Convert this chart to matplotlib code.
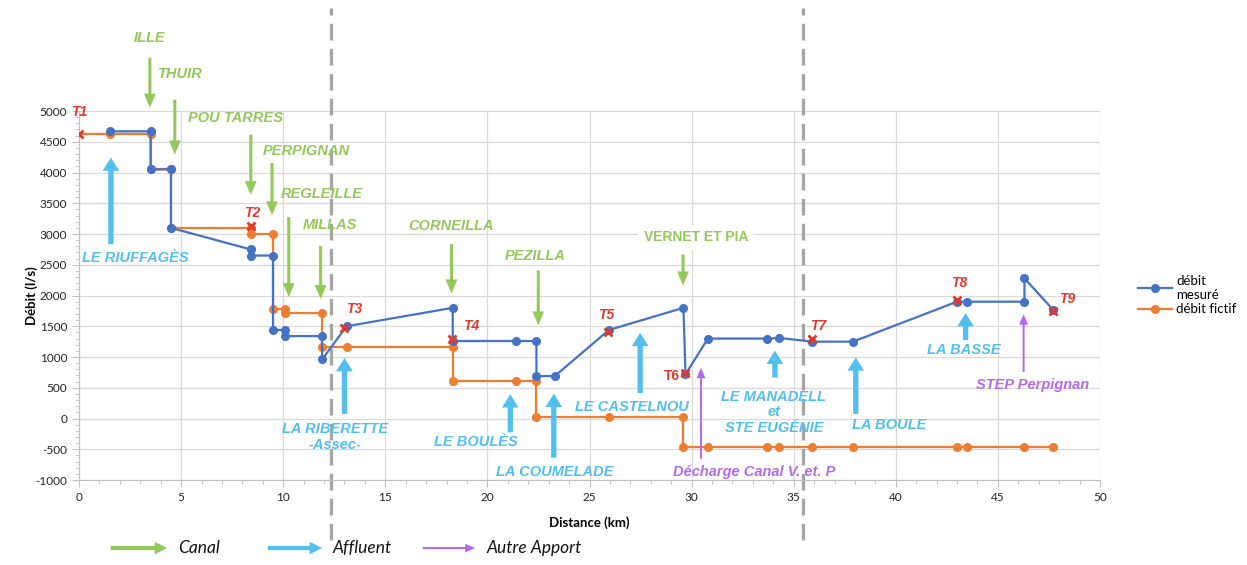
import numpy as np
import matplotlib
matplotlib.use("Agg")
from matplotlib import pyplot as plt

plt.rcParams["axes.unicode_minus"] = False

# débit mesuré (blue) and débit fictif (orange), distance in km, débit in l/s
dist_mesure = [1.5, 3.5, 3.5, 4.5, 4.5, 8.4, 8.4, 9.5, 9.5, 10.1, 10.1, 11.9, 11.9, 13.1,
               18.3, 18.3, 21.4, 22.4, 22.4, 23.3, 25.95, 29.6, 29.7, 30.8, 33.7, 34.3,
               35.9, 37.9, 43.0, 43.5, 46.3, 46.3, 47.7]
debit_mesure = [4670, 4670, 4050, 4050, 3100, 2750, 2650, 2650, 1440, 1440, 1340, 1340, 960, 1500,
                1800, 1260, 1260, 1260, 690, 690, 1440, 1800, 720, 1300, 1300, 1310,
                1250, 1250, 1900, 1900, 1900, 2280, 1770]

dist_fictif = [0, 1.5, 3.5, 3.5, 4.5, 4.5, 8.4, 8.4, 9.5, 9.5, 10.1, 10.1, 11.9, 11.9, 13.1,
               18.3, 18.3, 21.4, 22.4, 22.4, 25.95, 29.6, 29.6, 30.8, 33.7, 34.3, 35.9,
               37.9, 43.0, 43.5, 46.3, 47.7]
debit_fictif = [4630, 4630, 4630, 4050, 4050, 3100, 3100, 3000, 3000, 1780, 1780, 1710, 1710, 1170, 1170,
                1170, 610, 610, 610, 30, 30, 30, -460, -460, -460, -460, -460,
                -460, -460, -460, -460, -460]

# transects
t_labels = ["T1", "T2", "T3", "T4", "T5", "T6", "T7", "T8", "T9"]
t_dist = [0, 8.4, 13.0, 18.25, 25.9, 29.7, 35.9, 43.0, 47.7]
t_debit = [4630, 3130, 1480, 1300, 1400, 740, 1300, 1920, 1750]
t_text_x = [0, 8.5, 13.45, 19.2, 25.8, 29.05, 36.2, 43.1, 48.4]
t_text_y = [4980, 3340, 1780, 1500, 1690, 690, 1500, 2210, 1950]

# apports: (label, x arrow, y tail, y head, x text, y text, kind)
apports = [
    ("ILLE", 3.47, 5910, 5010, 3.47, 6190, "canal"),
    ("THUIR", 4.69, 5230, 4250, 4.94, 5600, "canal"),
    ("POU TARRES", 8.41, 4660, 3590, 7.68, 4890, "canal"),
    ("PERPIGNAN", 9.45, 4200, 3260, 11.15, 4350, "canal"),
    ("REGLEILLE", 10.27, 3320, 1930, 11.88, 3650, "canal"),
    ("MILLAS", 11.83, 2850, 1900, 12.27, 3145, "canal"),
    ("CORNEILLA", 18.24, 2880, 1990, 18.24, 3130, "canal"),
    ("PEZILLA", 22.49, 2450, 1470, 22.35, 2640, "canal"),
    ("VERNET ET PIA", 29.58, 2710, 2120, 30.2, 2950, "canal2"),
    ("LE RIUFFAGÈS", 1.56, 2790, 4290, 2.74, 2610, "affluent"),
    ("LA RIBERETTE\n-Assec-", 13.0, 30, 1030, 12.55, -300, "affluent"),
    ("LE BOULÈS", 21.12, -270, 440, 19.41, -380, "affluent"),
    ("LA COUMELADE", 23.25, -680, 450, 23.28, -870, "affluent"),
    ("LE CASTELNOU", 27.48, 370, 1440, 27.09, 190, "affluent"),
    ("LE MANADELL\net\nSTE EUGÉNIE", 34.08, 620, 1150, 34.03, 100, "affluent"),
    ("LA BOULE", 38.04, 30, 1040, 39.66, -110, "affluent"),
    ("LA BASSE", 43.42, 1230, 1760, 43.33, 1110, "affluent"),
    ("Décharge Canal V. et. P", 30.46, -700, 870, 33.06, -870, "autre"),
    ("STEP Perpignan", 46.26, 710, 1740, 46.7, 545, "autre"),
]

separations = [12.35, 35.45]

green = "#93c85b"
sky = "#52bfee"
purple = "#b46af0"
red = "#e5382c"
c_mes = "#4472c4"
c_fic = "#ed7d31"

styles = {
    "canal": ("simple,head_length=1.0,head_width=0.85,tail_width=0.22", 10, green),
    "canal2": ("simple,head_length=1.0,head_width=0.85,tail_width=0.22", 10, green),
    "affluent": ("simple,head_length=0.8,head_width=1.0,tail_width=0.32", 12, sky),
    "autre": ("simple,head_length=0.75,head_width=0.65,tail_width=0.14", 10, purple),
}

fig = plt.figure(figsize=(12.47, 5.65), dpi=100)
ax = fig.add_axes([0.0634, 0.1504, 0.8187, 0.6531])

ax.set_xlim(0, 50)
ax.set_ylim(-1000, 5000)
ax.set_xticks(np.arange(0, 51, 5))
ax.set_xticks(np.arange(0, 51, 1), minor=True)
ax.set_yticks(np.arange(-1000, 5001, 500))
ax.set_yticks(np.arange(-1000, 5001, 100), minor=True)
ax.grid(True, which="major", color="#d9d9d9", lw=0.9)
ax.set_axisbelow(True)
for s in ["top", "right"]:
    ax.spines[s].set_visible(False)
for s in ["left", "bottom"]:
    ax.spines[s].set_color("#bfbfbf")
ax.tick_params(which="both", colors="#bfbfbf", labelcolor="#222222", labelsize=8.5)
ax.tick_params(which="major", length=5)
ax.tick_params(which="minor", length=3)
for lab in ax.get_xticklabels() + ax.get_yticklabels():
    lab.set_family("Lato")

ax.set_xlabel("Distance (km)", fontsize=9.5, fontweight="bold", family="Lato", labelpad=10)
ax.set_ylabel("Débit (l/s)", fontsize=9.5, fontweight="bold", family="Lato", labelpad=-2)

# separation lines (go above and below the plot area)
for xs in separations:
    ax.plot([xs, xs], [-1980, 6680], color="#a6a6a6", lw=2.4, ls=(0, (5, 2.5)),
            clip_on=False, zorder=1)

l1, = ax.plot(dist_mesure, debit_mesure, color=c_mes, lw=1.6, marker="o", ms=5.5, zorder=4)
l2, = ax.plot(dist_fictif, debit_fictif, color=c_fic, lw=1.6, marker="o", ms=5.5,
              markevery=list(range(1, len(dist_fictif))), zorder=3)

ax.plot(t_dist, t_debit, ls="none", marker="x", color=red, ms=6, mew=2, zorder=6)
for lab, tx, ty in zip(t_labels, t_text_x, t_text_y):
    st = "normal" if lab == "T6" else "italic"
    ax.text(tx, ty, lab, color=red, fontsize=10, fontweight="bold", fontstyle=st,
            family="Liberation Sans", ha="center", va="center", zorder=7)

for lab, xa, yt, yh, xt, yl, kind in apports:
    style, ms, col = styles[kind]
    ax.annotate("", xy=(xa, yh), xytext=(xa, yt), annotation_clip=False,
                arrowprops=dict(arrowstyle=style, mutation_scale=ms, color=col, lw=0),
                zorder=5)
    if kind == "canal2":
        ax.text(xt, yl, lab, color=col, fontsize=10, fontweight="bold", family="Liberation Sans",
                ha="center", va="center", linespacing=1.15, zorder=5, clip_on=False,
                bbox=dict(facecolor="white", edgecolor="none", pad=4))
    else:
        ax.text(xt, yl, lab, color=col, fontsize=10.5, fontweight="bold", fontstyle="italic",
                family="Liberation Sans", ha="center", va="center", linespacing=1.15,
                zorder=5, clip_on=False)

leg = fig.legend([l1, l2], ["débit\nmesuré", "débit fictif"], loc="upper left",
                 bbox_to_anchor=(0.903, 0.535), frameon=False, prop={"family": "Lato", "size": 9.5},
                 handlelength=2.6, handletextpad=0.3, labelspacing=0.2)

# bottom key for the arrows
key_style = "simple,head_length=0.9,head_width=0.9,tail_width=0.3"
key = [("Canal", green, 0.0866, 0.1363, 0.1427, key_style, 10),
       ("Affluent", sky, 0.2125, 0.2606, 0.267, key_style, 10),
       ("Autre Apport", purple, 0.3368, 0.3833, 0.3905,
        "simple,head_length=0.8,head_width=0.7,tail_width=0.16", 9)]
for lab, col, x0, x1, xt, st, msc in key:
    fig.patches.append(matplotlib.patches.FancyArrowPatch(
        (x0, 0.03), (x1, 0.03), transform=fig.transFigure,
        arrowstyle=st, mutation_scale=msc, color=col, lw=0))
    fig.text(xt, 0.03, lab, fontsize=12.5, fontstyle="italic", family="Lato",
             ha="left", va="center", color="#111111")

fig.savefig("out.png", dpi=100)
